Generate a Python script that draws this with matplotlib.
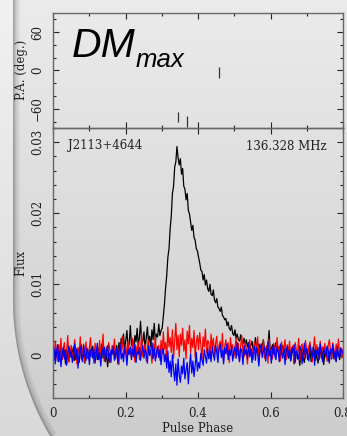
"""Pulse profile of J2113+4644 at 136 MHz with PA panel, drawn on a grey slide card."""

import matplotlib

matplotlib.use("Agg")
import matplotlib.pyplot as plt
import numpy as np
from matplotlib.colors import LinearSegmentedColormap
from matplotlib.patches import PathPatch
from matplotlib.path import Path
from matplotlib.ticker import FuncFormatter, MultipleLocator

# profile values in units of 1e-4 flux, bins spread evenly over phase 0 - 0.8
STOKES_I = [
    3, -6, 8, -2, 11, -9, 4, 14, -5, 0, 7, -12, 6, 2, -8, 10,
    -3, 5, 12, -7, 1, 9, -4, -10, 6, 15, -2, 3, -11, 8, 0, -5,
    9, -1, 4, 13, -8, 2, 7, -6, 10, -3, 5, 16, -4, 1, -9, 6,
    -16, -2, 3, -7, 8, 12, -1, 5, 14, -3, 18, 8, 24, 12, 30, 6,
    20, 35, 10, 16, 42, 14, 22, 5, 28, 19, 38, 12, 26, 48, 15, 20,
    33, 9, 25, 40, 18, 27, 12, 36, 22, 45, 20, 30, 26, 44, 28, 35,
    38, 55, 72, 95, 112, 138, 150, 178, 196, 228, 238, 265, 272, 294, 278, 268,
    277, 255, 263, 238, 234, 219, 228, 204, 199, 187, 176, 183, 166, 162, 150, 147,
    138, 130, 120, 118, 106, 114, 99, 106, 94, 90, 100, 86, 84, 92, 78, 74,
    80, 68, 66, 62, 68, 56, 54, 50, 52, 42, 47, 38, 35, 42, 31, 28,
    36, 24, 30, 22, 20, 29, 18, 16, 24, 15, 22, 12, 18, 10, 14, 20,
    8, 12, 25, 9, 6, 16, 11, 4, 14, 22, 7, 10, 3, 13, 35, 6,
    9, 15, 2, 11, 18, 5, 8, 12, -2, 7, 14, 4, 9, 1, 6, -4,
    5, -8, 3, 10, -12, 2, 7, -5, 0, -14, 6, 9, -3, -10, 4, 11,
    -6, 1, 8, -9, -2, 12, 3, -7, 5, -11, 0, 9, -4, 6, -13, 2,
    10, -1, -8, 4, 7, -5, 13, -3, 1, -9, 6, 3, -6, 8, -2, 5,
]

LINEAR = [
    12, -4, 20, 5, -8, 15, 2, 24, -6, 9, 18, -3, 6, 28, -10, 4,
    14, 0, -7, 22, 8, -12, 11, 3, 26, -5, 7, 16, -9, 19, 1, -4,
    10, 25, -2, 6, -11, 17, 4, 13, -6, 21, 0, 9, 30, -8, 5, 12,
    -3, 18, 7, -10, 14, 2, 23, -5, 8, 11, -13, 16, 4, 27, -1, 6,
    15, -7, 20, 3, 10, -4, 24, 9, -9, 13, 1, 19, -6, 8, 29, -2,
    5, 16, -8, 12, 22, 0, 7, -11, 17, 4, 26, -3, 10, 14, -7, 21,
    2, 33, 9, 18, -6, 40, 12, 25, 4, 36, -4, 20, 45, 8, 28, -2,
    30, 14, 38, 6, 22, -5, 34, 16, 42, 3, 24, 11, 35, -3, 19, 28,
    8, 32, 15, -6, 26, 12, 37, 4, 21, 18, -4, 30, 10, 24, 2, 17,
    27, -5, 14, 20, 6, 31, -8, 12, 22, 3, 18, -10, 25, 9, 15, -3,
    11, 24, 0, 17, -7, 13, 28, 5, -2, 19, 8, -12, 15, 22, 1, 10,
    -6, 18, 4, 12, 26, -9, 7, 16, 0, 21, -4, 9, 14, -11, 23, 3,
    8, -5, 17, 11, -2, 25, 6, 13, -8, 19, 2, 10, 22, -6, 15, 4,
    20, -3, 9, 14, -10, 18, 7, 1, 24, -7, 12, 16, 3, -4, 21, 8,
    -1, 13, 19, 5, -9, 11, 26, 2, 15, -5, 8, 20, -2, 12, 6, 17,
    3, -8, 14, 22, 7, -3, 18, 10, -6, 16, 4, 23, 1, 11, -4, 9,
]

CIRCULAR = [
    -4, 10, -12, 3, 15, -8, 6, -16, 2, 11, -5, 8, -14, 4, 13, -2,
    7, -10, 1, 16, -6, 9, -18, 5, 12, -3, -9, 14, 0, -7, 10, 3,
    -13, 6, 11, -4, 8, -11, 2, 17, -6, 4, -15, 9, 1, 12, -8, 5,
    14, -3, -10, 7, 2, 13, -7, 0, 10, -12, 6, 15, -5, 3, -9, 11,
    4, -14, 8, 1, 12, -6, 9, -2, 16, -10, 5, 2, 11, -7, 6, 14,
    -4, 9, 3, -11, 13, 0, 7, 18, -5, 10, -8, 4, 12, -3, 8, -13,
    5, 10, -9, 2, -18, 6, -24, -8, -30, 1, -20, -36, -12, -42, -5, -28,
    -38, -15, -26, -4, -33, -20, -10, -40, -16, 2, -25, -8, -30, -14, 4, -22,
    -10, -18, 3, -6, -14, 8, -2, -11, 10, -5, 6, -9, 12, 1, -7, 14,
    4, -10, 9, 15, -3, 7, -12, 11, 2, 16, -6, 8, 0, 13, -8, 5,
    12, -4, 18, 3, -9, 10, 6, -13, 14, 1, 8, -5, 17, -2, 9, -10,
    5, 13, -7, 11, 2, -15, 8, 16, -3, 6, 12, -8, 4, 19, -1, 7,
    -11, 9, 14, 0, -6, 12, 5, -9, 16, 3, -4, 10, -13, 7, 13, -2,
    8, -7, 11, 4, 15, -10, 6, 1, -5, 13, 9, -12, 3, 17, -4, 10,
    2, -8, 14, 6, -3, 12, -14, 8, 1, 11, -6, 16, 4, -9, 10, 5,
    -2, 13, 7, -11, 9, 3, 15, -5, 6, -8, 12, 1, -4, 10, 7, 2,
]

PA_PHASE = [0.344, 0.369, 0.458]
PA_DEG = [-73, -80, -3]
PA_ERR = [8, 8, 8]

PSR_NAME = "J2113+4644"
FREQ_LABEL = "136.328 MHz"

W, H = 347, 436  # output size in pixels


def card_background(fig):
    bg = fig.add_axes([0, 0, 1, 1], zorder=-10)
    bg.set_xlim(0, W)
    bg.set_ylim(H, 0)
    bg.axis("off")

    grad = np.linspace(0, 1, 256)[:, None]
    outer = LinearSegmentedColormap.from_list("outer", ["#f1f1f1", "#d9d9d9"])
    inner = LinearSegmentedColormap.from_list("inner", ["#ebebeb", "#cdcdcd"])
    bg.imshow(grad, extent=(0, W, H, 0), cmap=outer, aspect="auto")

    # card edge: straight on the left, big rounded corner at the bottom
    cx, cy, r = 281, 300, 268
    t = np.linspace(0, 0.6, 60)
    arc_x = cx - r * np.cos(t)
    arc_y = cy + r * np.sin(t)
    edge_x = np.concatenate([[13, 13], arc_x])
    edge_y = np.concatenate([[-5, cy], arc_y])
    verts = list(zip(edge_x, edge_y)) + [(W + 5, H + 5), (W + 5, -5), (13, -5)]
    card = PathPatch(Path(verts), facecolor="none", edgecolor="none", transform=bg.transData)
    bg.add_patch(card)

    im = bg.imshow(grad, extent=(0, W, H, 0), cmap=inner, aspect="auto")
    im.set_clip_path(card)

    # soft inner shadow along the edge
    for lw, a in [(10, 0.05), (7, 0.06), (4, 0.08), (2, 0.15)]:
        (ln,) = bg.plot(edge_x, edge_y, color="black", lw=lw, alpha=a, solid_capstyle="butt")
        ln.set_clip_path(card)


def style_axes(ax):
    ax.patch.set_alpha(0)
    for sp in ax.spines.values():
        sp.set_color("#666666")
        sp.set_linewidth(1.0)
    ax.tick_params(which="both", direction="in", top=True, right=True,
                   color="#222222", width=0.8, labelsize=8.5, pad=6.5, labelcolor="#222222")
    ax.tick_params(which="major", length=4.5)
    ax.tick_params(which="minor", length=2.5)


def main():
    plt.rcParams["font.family"] = ["DejaVu Serif"]
    fig = plt.figure(figsize=(W / 100, H / 100), dpi=100)
    card_background(fig)

    ax_pa = fig.add_axes([53 / W, 1 - 128 / H, 290 / W, 115 / H])
    ax = fig.add_axes([53 / W, 1 - 398 / H, 290 / W, 270 / H])
    style_axes(ax_pa)
    style_axes(ax)

    # polarisation angle panel
    ax_pa.errorbar(PA_PHASE, PA_DEG, yerr=PA_ERR, fmt="none", ecolor="#333333", elinewidth=0.9)
    ax_pa.set_xlim(0, 0.8)
    ax_pa.set_ylim(-90, 90)
    ax_pa.xaxis.set_major_locator(MultipleLocator(0.2))
    ax_pa.xaxis.set_minor_locator(MultipleLocator(0.1))
    ax_pa.yaxis.set_major_locator(MultipleLocator(60))
    ax_pa.yaxis.set_minor_locator(MultipleLocator(20))
    ax_pa.tick_params(labelbottom=False)

    # profile panel
    scale = 1e-4
    for vals, color in [(STOKES_I, "black"), (LINEAR, "#ff0000"), (CIRCULAR, "#0000ff")]:
        phase = np.linspace(0, 0.8, len(vals))
        ax.plot(phase, np.array(vals) * scale, color=color, lw=0.9)
    ax.set_xlim(0, 0.8)
    ax.set_ylim(-0.006, 0.032)
    ax.xaxis.set_major_locator(MultipleLocator(0.2))
    ax.xaxis.set_minor_locator(MultipleLocator(0.1))
    ax.yaxis.set_major_locator(MultipleLocator(0.01))
    ax.yaxis.set_minor_locator(MultipleLocator(0.002))
    ax.xaxis.set_major_formatter(FuncFormatter(lambda v, _: "0" if abs(v) < 1e-9 else f"{v:g}"))
    ax.yaxis.set_major_formatter(FuncFormatter(lambda v, _: "0" if abs(v) < 1e-9 else f"{v:g}"))

    for a in (ax_pa, ax):
        for lab in a.get_yticklabels():
            lab.set_rotation(90)
            lab.set_va("center")

    ax.text((68 - 53) / 290, 1 - 18 / 270, PSR_NAME, transform=ax.transAxes,
            fontsize=8.5, ha="left", va="center", color="#222222")
    ax.text((327 - 53) / 290, 1 - 18 / 270, FREQ_LABEL, transform=ax.transAxes,
            fontsize=8.5, ha="right", va="center", color="#222222")

    fig.text(21 / W, 1 - 70 / H, "P.A. (deg.)", rotation=90, ha="center", va="center",
             fontsize=8.5, color="#222222")
    fig.text(21 / W, 1 - 263 / H, "Flux", rotation=90, ha="center", va="center",
             fontsize=8.5, color="#222222")
    fig.text(198 / W, 1 - 428 / H, "Pulse Phase", ha="center", va="center",
             fontsize=8.5, color="#222222")

    # big slide label
    fig.text(72 / W, 1 - 57 / H, "DM", family="Liberation Sans", style="italic",
             fontsize=29.5, ha="left", va="baseline", color="black")
    fig.text(136 / W, 1 - 67 / H, "max", family="Liberation Sans", style="italic",
             fontsize=18.5, ha="left", va="baseline", color="black")

    fig.savefig("out.png", dpi=100, facecolor="white")
    plt.close(fig)


if __name__ == "__main__":
    main()
